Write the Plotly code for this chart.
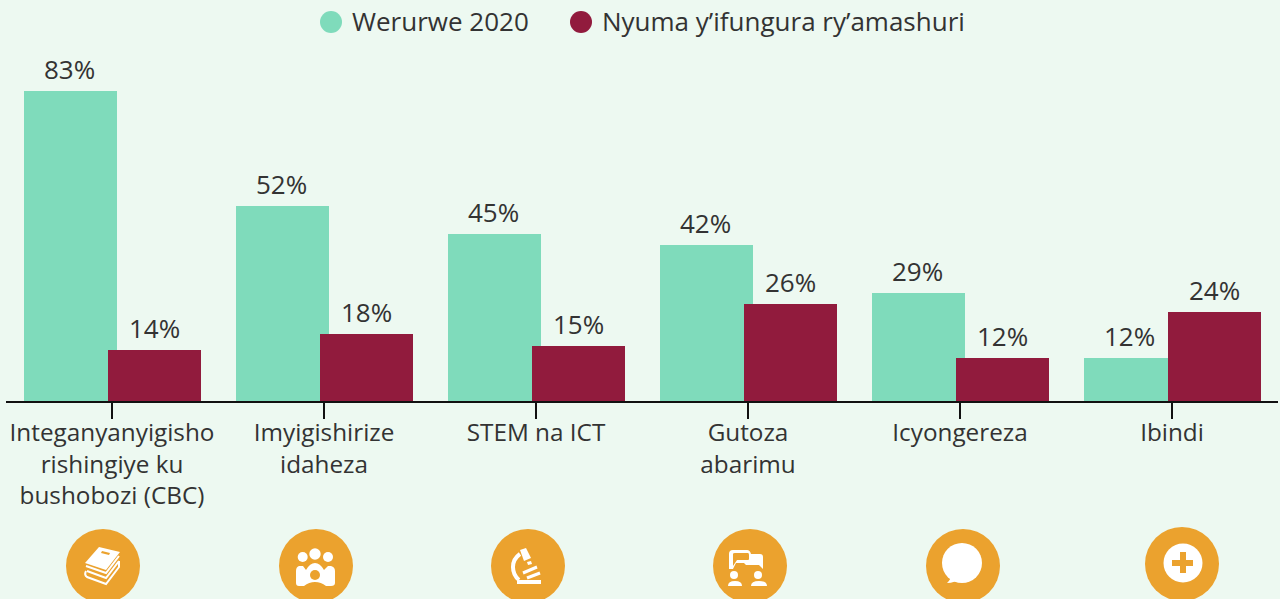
import plotly.graph_objects as go

categories = ["Integanyanyigisho<br>rishingiye ku<br>bushobozi (CBC)", "Imyigishirize<br>idaheza", "STEM na ICT",
              "Gutoza<br>abarimu", "Icyongereza", "Ibindi"]
series_names = ["Werurwe 2020", "Nyuma y’ifungura ry’amashuri"]
values_2020 = [83, 52.2, 44.7, 41.8, 28.9, 11.6]
values_after = [13.6, 17.9, 14.6, 26, 11.6, 23.8]

GREEN, RED, ORANGE, BG, INK = "#7FDBBB", "#911B3D", "#EBA22E", "#EDF9F1", "#333333"
FONT = "Open Sans"
W, H = 1280, 599
L, R, T, B = 6, 2, 40, 198
PW, PH = W - L - R, H - T - B


def px(x):
    return (x - L) / PW


def py(y):
    return (H - B - y) / PH


def path(d):
    out = []
    toks = d.split()
    i = 0
    while i < len(toks):
        t = toks[i]
        if t.isalpha():
            out.append(t)
            i += 1
        else:
            out.append(f"{px(float(t)):.5f},{py(float(toks[i + 1])):.5f}")
            i += 2
    return " ".join(out)


shapes = []


def circle(cx, cy, r, color):
    shapes.append(dict(type="circle", xref="paper", yref="paper", x0=px(cx - r), x1=px(cx + r),
                       y0=py(cy + r), y1=py(cy - r), fillcolor=color, line_width=0, layer="above"))


def poly(d, color="white"):
    shapes.append(dict(type="path", xref="paper", yref="paper", path=path(d), fillcolor=color,
                       line_width=0, layer="above"))


def stroke(d, color="white", w=2):
    shapes.append(dict(type="path", xref="paper", yref="paper", path=path(d), line=dict(color=color, width=w),
                       layer="above"))


# legend dots
circle(331, 22, 11, GREEN)
circle(581, 22, 11, RED)

# icon discs
for cx, cy in [(103, 566), (316, 566), (528, 566), (750, 566), (963, 566), (1182, 564)]:
    circle(cx, cy, 37, ORANGE)

# books
poly("M 99 547 L 120 552 L 106 570 L 85 563 Z")
poly("M 102 551 L 110 553 L 109 555 L 101 553 Z", ORANGE)
stroke("M 86 566 L 106 573 L 119 556", w=2)
stroke("M 86 571 Q 84 575 87 577 L 106 584 L 119 567 L 119 561", w=2)
stroke("M 87 571 L 106 578 L 119 561", w=2)
# people
circle(302.7, 557, 5, "white")
circle(315, 554, 5.7, "white")
circle(328, 557, 5, "white")
poly("M 299 566 Q 296 567 296 571 L 296 583 Q 296 586 299 586 L 304 586 Q 309 582 315 582 Q 321 582 326 586 "
     "L 331 586 Q 335 586 335 583 L 335 571 Q 335 567 331 566 L 328 566 L 324 570 Q 320 563 315 563 "
     "Q 310 563 306 570 L 303 566 Z")
circle(315, 575, 5, ORANGE)
# microscope
poly("M 520 550 L 526 548 L 531 558 L 524 561 Z")
poly("M 527 562 L 531 561 L 532 564 L 528 565 Z")
stroke("M 520 554 Q 513 559 513 567 Q 513 575 519 580", w=4)
stroke("M 523 573 L 537 567", w=3)
stroke("M 527 578 L 540 573", w=3)
poly("M 517 580 L 541 580 L 541 584 L 517 584 Z")
# teaching
poly("M 729 569 L 729 554 Q 729 550 733 550 L 747 550 Q 750 550 751 554 L 760 554 Q 763 554 763 557 L 763 569 "
     "L 759 565 L 746 565 L 744 563 L 736 563 L 733 569 Z")
poly("M 733 566 L 733 554 Q 733 553 735 553 L 748 553 Q 749 553 749 555 L 749 559 Q 749 560 748 560 L 737 560 Z",
     ORANGE)
circle(734, 575, 4, "white")
circle(758, 575, 4, "white")
poly("M 728 586 Q 728 581 735 581 Q 742 581 742 586 Z")
poly("M 751 586 Q 751 581 759 581 Q 767 581 767 586 Z")
# speech bubble
circle(962, 563, 20, "white")
poly("M 951 575 Q 952 578 947 583 Q 955 583 960 578 Z")
# plus
circle(1183, 563, 19.5, "white")
poly("M 1180 552 L 1186 552 L 1186 560 L 1193 560 L 1193 566 L 1186 566 L 1186 573 L 1180 573 L 1180 566 "
     "L 1172 566 L 1172 560 L 1180 560 Z", ORANGE)

annotations = [
    dict(xref="paper", yref="paper", x=px(352), y=py(22), text=series_names[0], showarrow=False, xanchor="left",
         yanchor="middle", xshift=-2, yshift=1, font=dict(family=FONT, size=26, color=INK)),
    dict(xref="paper", yref="paper", x=px(602), y=py(22), text=series_names[1], showarrow=False, xanchor="left",
         yanchor="middle", xshift=-2, yshift=1, font=dict(family=FONT, size=26, color=INK)),
]

fig = go.Figure()
for name, vals, color in [(series_names[0], values_2020, GREEN), (series_names[1], values_after, RED)]:
    off = -0.417 if color == GREEN else -0.017
    shift = -42.5 if color == GREEN else 42.5
    fig.add_trace(go.Bar(x=categories, y=vals, name=name, marker=dict(color=color, line_width=0), width=0.4387,
                         offset=off, showlegend=False))
    for c, v in zip(categories, vals):
        annotations.append(dict(x=c, y=v, text=f"{v:.0f}%", showarrow=False, xanchor="center", yanchor="middle",
                                xshift=shift, yshift=22, font=dict(family=FONT, size=26, color=INK)))

fig.update_layout(
    width=W, height=H, margin=dict(l=L, r=R, t=T, b=B, autoexpand=False), paper_bgcolor=BG, plot_bgcolor=BG,
    barmode="overlay", bargap=0, showlegend=False, shapes=shapes, annotations=annotations,
    xaxis=dict(type="category", categoryorder="array", categoryarray=categories, range=[-0.5, 5.5], showgrid=False,
               ticks="outside", ticklen=16, tickwidth=2, tickcolor="#111111", showline=True, linecolor="#111111",
               linewidth=2, tickangle=0, ticklabelstandoff=-7, tickfont=dict(family=FONT, size=24.3, color=INK)),
    yaxis=dict(range=[0, PH / 3.735], visible=False, showgrid=False, zeroline=False),
)
fig.write_html("out.html", config=dict(displayModeBar=False),
               post_script="document.body.style.margin='0';document.body.style.overflow='hidden';")
